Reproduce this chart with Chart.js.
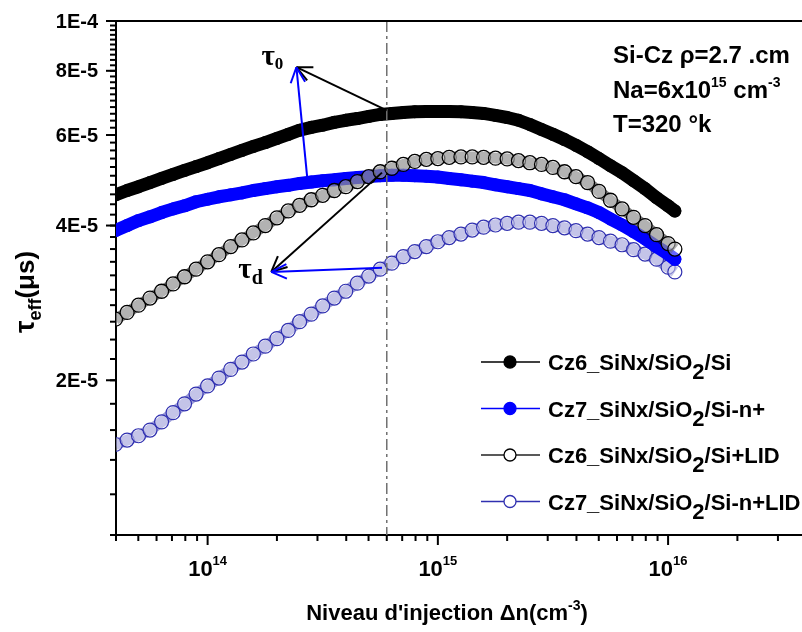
<!DOCTYPE html>
<html>
<head>
<meta charset="utf-8">
<script src="https://cdn.jsdelivr.net/npm/chart.js@4.4.0/dist/chart.umd.min.js"></script>
<style>
html, body { margin: 0; padding: 0; overflow: hidden; background: #fff; }
</style>
</head>
<body>
<canvas id="tauChart" width="815" height="632"></canvas>
<script>
// injection level (cm-3), read positions along the x axis
const injection = [3.98e13, 4.47e13, 5.01e13, 5.62e13, 6.31e13, 7.08e13, 7.94e13, 8.91e13,
  1.00e14, 1.12e14, 1.26e14, 1.41e14, 1.58e14, 1.78e14, 2.00e14, 2.24e14, 2.51e14, 2.82e14,
  3.16e14, 3.55e14, 3.98e14, 4.47e14, 5.01e14, 5.62e14, 6.31e14, 7.08e14, 7.94e14, 8.91e14,
  1.00e15, 1.12e15, 1.26e15, 1.41e15, 1.58e15, 1.78e15, 2.00e15, 2.24e15, 2.51e15, 2.82e15,
  3.16e15, 3.55e15, 3.98e15, 4.47e15, 5.01e15, 5.62e15, 6.31e15, 7.08e15, 7.94e15, 8.91e15,
  1.00e16, 1.07e16];

// tau_eff values
const cz6 = [4.59e-5, 4.68e-5, 4.76e-5, 4.85e-5, 4.94e-5, 5.03e-5, 5.12e-5, 5.21e-5, 5.30e-5, 5.40e-5,
  5.50e-5, 5.60e-5, 5.70e-5, 5.80e-5, 5.91e-5, 6.02e-5, 6.13e-5, 6.21e-5, 6.27e-5, 6.35e-5,
  6.41e-5, 6.46e-5, 6.52e-5, 6.58e-5, 6.61e-5, 6.64e-5, 6.66e-5, 6.67e-5, 6.67e-5, 6.67e-5,
  6.66e-5, 6.64e-5, 6.61e-5, 6.55e-5, 6.49e-5, 6.41e-5, 6.29e-5, 6.15e-5, 6.02e-5, 5.88e-5,
  5.73e-5, 5.57e-5, 5.40e-5, 5.23e-5, 5.07e-5, 4.89e-5, 4.72e-5, 4.53e-5, 4.37e-5, 4.27e-5];
const cz7 = [3.91e-5, 4.00e-5, 4.09e-5, 4.16e-5, 4.24e-5, 4.31e-5, 4.37e-5, 4.45e-5, 4.50e-5, 4.55e-5,
  4.59e-5, 4.63e-5, 4.68e-5, 4.72e-5, 4.76e-5, 4.79e-5, 4.83e-5, 4.86e-5, 4.89e-5, 4.91e-5,
  4.94e-5, 4.96e-5, 4.98e-5, 5.00e-5, 5.01e-5, 5.01e-5, 5.00e-5, 4.99e-5, 4.97e-5, 4.94e-5,
  4.91e-5, 4.88e-5, 4.85e-5, 4.80e-5, 4.76e-5, 4.72e-5, 4.68e-5, 4.61e-5, 4.55e-5, 4.49e-5,
  4.41e-5, 4.33e-5, 4.24e-5, 4.12e-5, 4.01e-5, 3.89e-5, 3.77e-5, 3.64e-5, 3.52e-5, 3.44e-5];
const cz6Lid = [2.63e-5, 2.71e-5, 2.80e-5, 2.89e-5, 2.98e-5, 3.08e-5, 3.18e-5, 3.29e-5, 3.40e-5, 3.51e-5,
  3.64e-5, 3.75e-5, 3.87e-5, 4.00e-5, 4.14e-5, 4.27e-5, 4.38e-5, 4.49e-5, 4.58e-5, 4.68e-5,
  4.76e-5, 4.87e-5, 4.98e-5, 5.09e-5, 5.17e-5, 5.26e-5, 5.33e-5, 5.38e-5, 5.40e-5, 5.43e-5,
  5.44e-5, 5.44e-5, 5.43e-5, 5.41e-5, 5.39e-5, 5.35e-5, 5.30e-5, 5.26e-5, 5.19e-5, 5.09e-5,
  4.98e-5, 4.85e-5, 4.66e-5, 4.48e-5, 4.31e-5, 4.15e-5, 4.00e-5, 3.84e-5, 3.69e-5, 3.60e-5];
const cz7Lid = [1.50e-5, 1.53e-5, 1.56e-5, 1.60e-5, 1.66e-5, 1.73e-5, 1.80e-5, 1.88e-5, 1.95e-5, 2.02e-5,
  2.10e-5, 2.17e-5, 2.25e-5, 2.33e-5, 2.41e-5, 2.50e-5, 2.60e-5, 2.69e-5, 2.79e-5, 2.89e-5,
  2.98e-5, 3.09e-5, 3.19e-5, 3.29e-5, 3.38e-5, 3.48e-5, 3.56e-5, 3.64e-5, 3.72e-5, 3.79e-5,
  3.85e-5, 3.92e-5, 3.97e-5, 4.01e-5, 4.04e-5, 4.06e-5, 4.06e-5, 4.04e-5, 4.00e-5, 3.96e-5,
  3.91e-5, 3.85e-5, 3.79e-5, 3.73e-5, 3.67e-5, 3.59e-5, 3.52e-5, 3.44e-5, 3.32e-5, 3.25e-5];

const seriesLabels = ['Cz6_SiNx/SiO2/Si', 'Cz7_SiNx/SiO2/Si-n+', 'Cz6_SiNx/SiO2/Si+LID', 'Cz7_SiNx/SiO2/Si-n+LID'];

// axis ticks
const yMajor = [2e-5, 4e-5, 6e-5, 8e-5, 1e-4];
const yLabels = ['2E-5', '4E-5', '6E-5', '8E-5', '1E-4'];
const xMajor = [1e14, 1e15, 1e16];
const xExp = ['14', '15', '16'];

// annotations (data coordinates)
const markX = 6.0e14;
const tau0Tip = { x: 2.43e14, y: 8.13e-5 };
const tau0From = [{ x: 6.0e14, y: 6.70e-5, c: '#000' }, { x: 2.71e14, y: 4.94e-5, c: '#0000ff' }];
const tauDTip = { x: 1.89e14, y: 3.25e-5 };
const tauDFrom = [{ x: 5.72e14, y: 5.07e-5, c: '#000' }, { x: 5.72e14, y: 3.31e-5, c: '#0000ff' }];

const SANS = '"Liberation Sans", Arial, sans-serif';
const SERIF = '"Liberation Serif", "Times New Roman", serif';
const BLUE = '#0000ff';
const NAVY = '#3030b0';

function pts(ys) {
  return injection.map((x, i) => ({ x: x, y: ys[i] }));
}

function seg(ctx, x1, y1, x2, y2) {
  ctx.beginPath();
  ctx.moveTo(x1, y1);
  ctx.lineTo(x2, y2);
  ctx.stroke();
}

function arrow(ctx, x1, y1, x2, y2, color) {
  ctx.strokeStyle = color;
  ctx.lineWidth = 2;
  seg(ctx, x1, y1, x2, y2);
  const ang = Math.atan2(y1 - y2, x1 - x2);
  [-1, 1].forEach(s => {
    const a = ang + s * 0.44;
    seg(ctx, x2, y2, x2 + 17 * Math.cos(a), y2 + 17 * Math.sin(a));
  });
}

// parts: [text, size, dy]
function rich(ctx, x, y, parts, family) {
  parts.forEach(p => {
    ctx.font = 'bold ' + p[1] + 'px ' + (family || SANS);
    ctx.fillText(p[0], x, y + (p[2] || 0));
    x += ctx.measureText(p[0]).width;
  });
  return x;
}

function richWidth(ctx, parts, family) {
  let w = 0;
  parts.forEach(p => {
    ctx.font = 'bold ' + p[1] + 'px ' + (family || SANS);
    w += ctx.measureText(p[0]).width;
  });
  return w;
}

const decorations = {
  id: 'decorations',
  afterDatasetsDraw(chart) {
    const { ctx, chartArea: a, scales: { x, y } } = chart;
    ctx.save();
    // dash-dot marker line
    const mx = x.getPixelForValue(markX);
    ctx.strokeStyle = '#707070';
    ctx.lineWidth = 1.5;
    ctx.setLineDash([11, 4, 3, 4]);
    seg(ctx, mx, a.top, mx, a.bottom);
    ctx.setLineDash([]);

    // arrows
    const t0 = { x: x.getPixelForValue(tau0Tip.x), y: y.getPixelForValue(tau0Tip.y) };
    tau0From.forEach(f => arrow(ctx, x.getPixelForValue(f.x), y.getPixelForValue(f.y), t0.x, t0.y, f.c));
    const td = { x: x.getPixelForValue(tauDTip.x), y: y.getPixelForValue(tauDTip.y) };
    tauDFrom.forEach(f => arrow(ctx, x.getPixelForValue(f.x), y.getPixelForValue(f.y), td.x, td.y, f.c));
    ctx.fillStyle = '#000';
    ctx.textBaseline = 'alphabetic';
    rich(ctx, t0.x - 35, t0.y - 2, [['τ', 29], ['0', 17, 4]], SERIF);
    rich(ctx, td.x - 33, td.y + 6, [['τ', 29], ['d', 20, 6]], SERIF);
    ctx.restore();
  },
  afterDraw(chart) {
    const { ctx, chartArea: a, scales: { x, y } } = chart;
    ctx.save();
    ctx.strokeStyle = '#000';
    ctx.fillStyle = '#000';
    ctx.lineWidth = 2;
    seg(ctx, a.left - 1, a.top, a.right, a.top);

    // y ticks
    for (let m = 10; m < 100; m += 2) {
      const p = y.getPixelForValue(m * 1e-6);
      seg(ctx, a.left - 6, p, a.left, p);
    }
    ctx.font = 'bold 20px ' + SANS;
    ctx.textAlign = 'right';
    ctx.textBaseline = 'middle';
    yMajor.forEach((v, i) => {
      const p = y.getPixelForValue(v);
      seg(ctx, a.left - 10, p, a.left, p);
      ctx.fillText(yLabels[i], 98, p + 1);
    });

    // x ticks
    for (let e = 13; e <= 16; e++) {
      for (let d = 2; d <= 9; d++) {
        const v = d * Math.pow(10, e);
        if (v < x.min || v > x.max) continue;
        const p = x.getPixelForValue(v);
        seg(ctx, p, a.bottom, p, a.bottom + 6);
      }
    }
    ctx.textAlign = 'left';
    ctx.textBaseline = 'alphabetic';
    xMajor.forEach((v, i) => {
      const p = x.getPixelForValue(v);
      seg(ctx, p, a.bottom, p, a.bottom + 10);
      const parts = [['10', 22], [xExp[i], 13, -11]];
      rich(ctx, p - richWidth(ctx, parts) / 2, 576, parts);
    });

    // x title
    const xt = [['Niveau d\'injection Δn(cm', 22], ['-3', 14, -10], [')', 22]];
    rich(ctx, 447 - richWidth(ctx, xt) / 2, 620, xt);

    // y title
    ctx.save();
    ctx.translate(34, 292);
    ctx.rotate(-Math.PI / 2);
    const yt = [['τ', 28], ['eff', 18, 7], ['(μs)', 26]];
    rich(ctx, -richWidth(ctx, yt) / 2, 0, yt);
    ctx.restore();

    // sample info
    rich(ctx, 613, 63, [['Si-Cz ρ=2.7 .cm', 24]]);
    rich(ctx, 613, 98, [['Na=6x10', 24], ['15', 14, -11], [' cm', 24], ['-3', 14, -11]]);
    rich(ctx, 613, 132, [['T=320 °k', 24]]);

    // legend
    const rows = [362, 408.5, 455, 501.5];
    const style = [
      { line: '#000', fill: '#000', stroke: '#000' },
      { line: BLUE, fill: BLUE, stroke: BLUE },
      { line: '#222', fill: '#fff', stroke: '#000' },
      { line: NAVY, fill: '#fff', stroke: NAVY }
    ];
    rows.forEach((ry, i) => {
      ctx.strokeStyle = style[i].line;
      ctx.lineWidth = 1.6;
      seg(ctx, 481, ry, 540, ry);
      ctx.beginPath();
      ctx.arc(510, ry, 6, 0, Math.PI * 2);
      ctx.fillStyle = style[i].fill;
      ctx.fill();
      ctx.strokeStyle = style[i].stroke;
      ctx.lineWidth = 1.3;
      ctx.stroke();
      ctx.fillStyle = '#000';
      const lbl = seriesLabels[i];
      const k = lbl.indexOf('O2') + 1;
      rich(ctx, 548, ry + 8, [[lbl.slice(0, k), 22], ['2', 22, 9], [lbl.slice(k + 1), 22]]);
    });
    ctx.restore();
  }
};

new Chart(document.getElementById('tauChart'), {
  type: 'scatter',
  data: {
    datasets: [
      {
        label: seriesLabels[0], data: pts(cz6), showLine: true, order: 4, clip: 0,
        borderColor: '#000', borderWidth: 13, borderCapStyle: 'round', borderJoinStyle: 'round',
        pointRadius: 6.5, pointBackgroundColor: '#000', pointBorderWidth: 0
      },
      {
        label: seriesLabels[1], data: pts(cz7), showLine: true, order: 2, clip: 0,
        borderColor: BLUE, borderWidth: 13, borderCapStyle: 'round', borderJoinStyle: 'round',
        pointRadius: 6.5, pointBackgroundColor: BLUE, pointBorderWidth: 0
      },
      {
        label: seriesLabels[2], data: pts(cz6Lid), showLine: true, order: 1, clip: 0,
        borderColor: 'rgba(0,0,0,0.5)', borderWidth: 11,
        pointRadius: 7, pointBackgroundColor: 'rgba(255,255,255,0.4)',
        pointBorderColor: '#000', pointBorderWidth: 1.3
      },
      {
        label: seriesLabels[3], data: pts(cz7Lid), showLine: true, order: 3, clip: 0,
        borderColor: 'rgba(40,40,170,0.45)', borderWidth: 11,
        pointRadius: 7, pointBackgroundColor: 'rgba(255,255,255,0.4)',
        pointBorderColor: NAVY, pointBorderWidth: 1.2
      }
    ]
  },
  options: {
    responsive: false,
    animation: false,
    devicePixelRatio: 1,
    layout: { padding: { top: 21, right: 5, left: 0, bottom: 0 } },
    plugins: { legend: { display: false }, tooltip: { enabled: false } },
    scales: {
      x: {
        type: 'logarithmic', min: 4e13, max: 4e16,
        ticks: { display: false }, grid: { display: false },
        border: { display: true, color: '#000', width: 2 },
        afterFit: s => { s.height = 97; }
      },
      y: {
        type: 'logarithmic', min: 1e-5, max: 1e-4,
        ticks: { display: false }, grid: { display: false },
        border: { display: true, color: '#000', width: 2 },
        afterFit: s => { s.width = 116; }
      }
    }
  },
  plugins: [decorations]
});
</script>
</body>
</html>
